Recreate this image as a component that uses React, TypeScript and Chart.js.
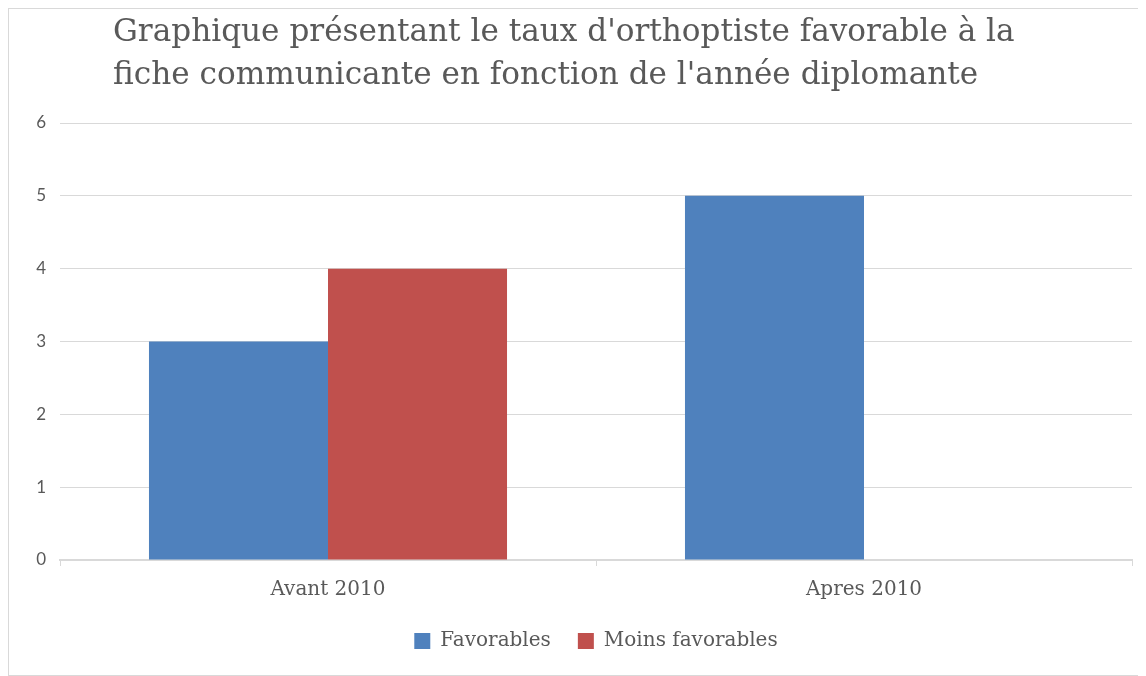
import { useEffect, useRef } from 'react';
import { Chart, registerables } from 'chart.js';

Chart.register(...registerables);

const categories = ['Avant 2010', 'Apres 2010'];
const favorables = [3, 5];
const moinsFavorables = [4, 0];
const seriesNames = ['Favorables', 'Moins favorables'];
const yMin = 0;
const yMax = 6;
const yStep = 1;
const titleLines = [
  "Graphique présentant le taux d'orthoptiste favorable à la",
  "fiche communicante en fonction de l'année diplomante",
];

const TEXT = '#595959';
const GRID = '#d9d9d9';

const titlePlugin = {
  id: 'leftTitle',
  afterLayout(chart: any) {
    // centre the legend over the plot area, as in the reference
    if (chart.legend) {
      chart.legend.left = chart.chartArea.left;
      chart.legend.right = chart.chartArea.right;
    }
  },
  afterDraw(chart: any) {
    const ctx = chart.ctx;
    ctx.save();
    ctx.fillStyle = TEXT;
    ctx.textBaseline = 'middle';
    ctx.textAlign = 'left';
    let size = 30;
    ctx.font = `${size}px "DejaVu Serif"`;
    const w = ctx.measureText(titleLines[0]).width;
    size = (size * 902) / w;
    ctx.font = `${size}px "DejaVu Serif"`;
    titleLines.forEach((l, i) => ctx.fillText(l, 104, 24 + i * 43));
    ctx.restore();
  },
};

export default function App() {
  const ref = useRef<HTMLCanvasElement | null>(null);
  useEffect(() => {
    if (!ref.current) return;
    const chart = new Chart(ref.current, {
      type: 'bar',
      data: {
        labels: categories,
        datasets: [
          { label: seriesNames[0], data: favorables, backgroundColor: '#4f81bd', borderWidth: 0 },
          { label: seriesNames[1], data: moinsFavorables, backgroundColor: '#c0504d', borderWidth: 0 },
        ],
      },
      plugins: [titlePlugin],
      options: {
        animation: false,
        responsive: true,
        maintainAspectRatio: false,
        datasets: { bar: { categoryPercentage: 0.668, barPercentage: 1 } },
        layout: { padding: { top: 114, right: 14, left: 0, bottom: 14 } },
        plugins: {
          title: { display: false },
          tooltip: { enabled: false },
          legend: {
            position: 'bottom',
            labels: {
              color: TEXT,
              font: { family: '"DejaVu Serif"', size: 20 },
              boxWidth: 16,
              boxHeight: 16,
              padding: 27,
            },
          },
        },
        scales: {
          x: {
            afterFit: (s: any) => { s.height = 44; },
            grid: { display: true, drawOnChartArea: false, drawTicks: true, tickLength: 6, color: GRID, offset: true },
            border: { display: true, color: GRID, width: 2 },
            ticks: { color: TEXT, font: { family: '"DejaVu Serif"', size: 20 }, padding: 12 },
          },
          y: {
            min: yMin,
            max: yMax,
            afterFit: (s: any) => { s.width = 51; },
            grid: { color: GRID, drawTicks: false, lineWidth: 1 },
            border: { display: false },
            ticks: { stepSize: yStep, color: TEXT, font: { family: 'Lato', size: 17 }, padding: 14 },
          },
        },
      },
    });
    return () => chart.destroy();
  }, []);
  return (
    <div
      style={{
        width: 1138,
        height: 668,
        boxSizing: 'border-box',
        borderLeft: '1px solid #d9d9d9',
        borderTop: '1px solid #d9d9d9',
        borderBottom: '1px solid #d9d9d9',
        position: 'relative',
        background: '#fff',
      }}
    >
      <canvas ref={ref} />
    </div>
  );
}
